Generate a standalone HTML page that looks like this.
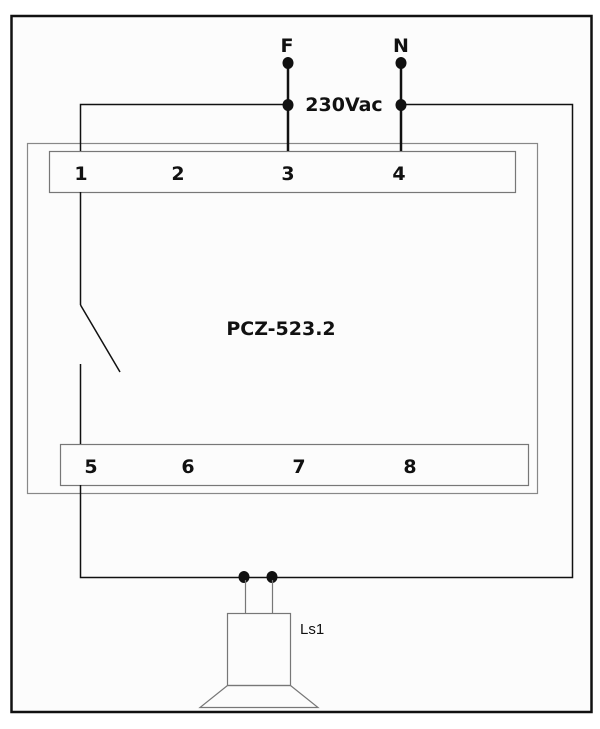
<!DOCTYPE html>
<html><head><style>
html,body{margin:0;padding:0;background:#fff;}
svg{display:block}
text{font-family:"DejaVu Sans","Liberation Sans",sans-serif;font-weight:bold;font-size:19px;fill:#111}
</style></head><body>
<svg width="600" height="729" viewBox="0 0 600 729" xmlns="http://www.w3.org/2000/svg">
<rect x="0" y="0" width="600" height="729" fill="#fff"/>
<rect x="11.5" y="16" width="580" height="696" fill="#fcfcfc" stroke="#111" stroke-width="2.5"/>
<rect x="27.5" y="143.5" width="510" height="350" fill="none" stroke="#888" stroke-width="1.2"/>
<rect x="49.5" y="151.5" width="466" height="41" fill="none" stroke="#777" stroke-width="1.2"/>
<rect x="60.5" y="444.5" width="468" height="41" fill="none" stroke="#777" stroke-width="1.2"/>
<g stroke="#111" stroke-width="1.5" fill="none">
<polyline points="80.5,151 80.5,104.5 287,104.5"/>
<polyline points="400,104.5 572.5,104.5 572.5,577.5 80.5,577.5 80.5,485"/>
<line x1="80.5" y1="192" x2="80.5" y2="305"/>
<line x1="80.5" y1="305" x2="120" y2="372"/>
<line x1="80.5" y1="364" x2="80.5" y2="444"/>
</g>
<g stroke="#111" stroke-width="2.5">
<line x1="288" y1="62" x2="288" y2="151"/>
<line x1="401" y1="62" x2="401" y2="151"/>
</g>
<g fill="#111">
<ellipse cx="288" cy="63" rx="5.5" ry="6"/>
<ellipse cx="288" cy="105" rx="5.5" ry="6"/>
<ellipse cx="401" cy="63" rx="5.5" ry="6"/>
<ellipse cx="401" cy="105" rx="5.5" ry="6"/>
<ellipse cx="244" cy="577" rx="5.5" ry="6"/>
<ellipse cx="272" cy="577" rx="5.5" ry="6"/>
</g>
<text x="287" y="52" text-anchor="middle">F</text>
<text x="401" y="52" text-anchor="middle">N</text>
<text x="344" y="111" text-anchor="middle">230Vac</text>
<text x="81" y="180" text-anchor="middle">1</text>
<text x="178" y="180" text-anchor="middle">2</text>
<text x="288" y="180" text-anchor="middle">3</text>
<text x="399" y="180" text-anchor="middle">4</text>
<text x="91" y="473" text-anchor="middle">5</text>
<text x="188" y="473" text-anchor="middle">6</text>
<text x="299" y="473" text-anchor="middle">7</text>
<text x="410" y="473" text-anchor="middle">8</text>
<text x="281" y="335" text-anchor="middle">PCZ-523.2</text>
<g stroke="#777" stroke-width="1.2" fill="none">
<line x1="245.5" y1="580" x2="245.5" y2="613"/>
<line x1="272.5" y1="580" x2="272.5" y2="613"/>
<rect x="227.5" y="613.5" width="63" height="72"/>
<polygon points="227.5,685.5 290.5,685.5 318,707.5 200,707.5"/>
</g>
<text x="300" y="634" style="font-family:'Liberation Sans',sans-serif;font-weight:normal;font-size:15px">Ls1</text>
</svg>
</body></html>
